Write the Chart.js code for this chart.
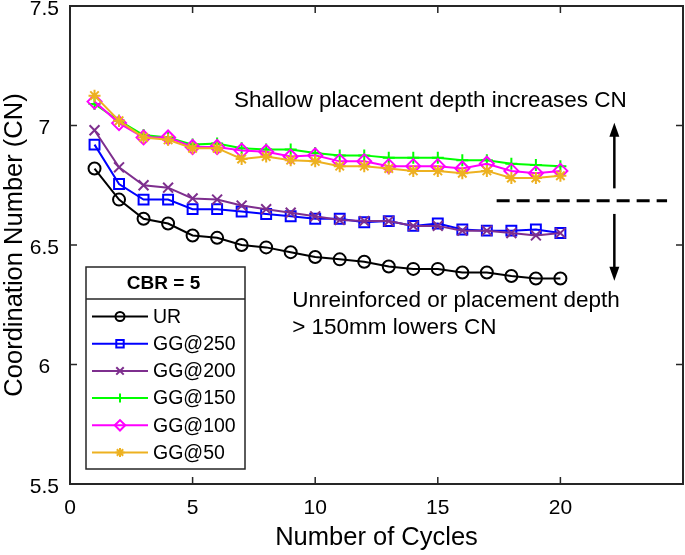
<!DOCTYPE html>
<html>
<head>
<meta charset="utf-8">
<script src="https://cdn.jsdelivr.net/npm/chart.js@4.4.0/dist/chart.umd.min.js"></script>
<style>
  html, body { margin: 0; padding: 0; background: #fff; }
</style>
</head>
<body>
<canvas id="chart-cn" width="685" height="555"></canvas>
<script>
// cycles on the x axis
const cycles = [1, 2, 3, 4, 5, 6, 7, 8, 9, 10, 11, 12, 13, 14, 15, 16, 17, 18, 19, 20];

// coordination number per series
const cnUR    = [6.82, 6.69, 6.61, 6.59, 6.54, 6.53, 6.50, 6.49, 6.47, 6.45, 6.44, 6.43, 6.41, 6.40, 6.40, 6.385, 6.385, 6.37, 6.36, 6.36];
const cnGG250 = [6.92, 6.755, 6.69, 6.69, 6.65, 6.65, 6.64, 6.63, 6.62, 6.61, 6.61, 6.595, 6.60, 6.58, 6.59, 6.565, 6.56, 6.56, 6.565, 6.55];
const cnGG200 = [6.98, 6.825, 6.75, 6.74, 6.695, 6.69, 6.665, 6.65, 6.635, 6.62, 6.605, 6.60, 6.60, 6.58, 6.58, 6.56, 6.56, 6.55, 6.54, 6.55];
const cnGG150 = [7.09, 7.02, 6.96, 6.95, 6.92, 6.925, 6.905, 6.90, 6.90, 6.885, 6.875, 6.875, 6.865, 6.865, 6.865, 6.855, 6.855, 6.84, 6.835, 6.83];
const cnGG100 = [7.10, 7.01, 6.95, 6.95, 6.91, 6.91, 6.895, 6.89, 6.87, 6.875, 6.85, 6.85, 6.83, 6.83, 6.83, 6.82, 6.84, 6.81, 6.80, 6.81];
const cnGG50  = [7.125, 7.02, 6.95, 6.94, 6.905, 6.905, 6.86, 6.87, 6.855, 6.85, 6.83, 6.83, 6.82, 6.81, 6.81, 6.80, 6.81, 6.78, 6.78, 6.79];

const seriesNames = ["UR", "GG@250", "GG@200", "GG@150", "GG@100", "GG@50"];
const xTicks = [0, 5, 10, 15, 20];
const yTicks = [5.5, 6, 6.5, 7, 7.5];

const FONT = "'Liberation Sans', Arial, Helvetica, sans-serif";
const AXIS_COLOR = "#262626";

function makeSet(name, values, color, style, radius, order) {
  return {
    label: name,
    data: values.map((v, i) => ({ x: cycles[i], y: v })),
    borderColor: color,
    backgroundColor: color,
    borderWidth: 2,
    pointStyle: style,
    pointRadius: radius,
    pointHoverRadius: radius,
    pointBorderColor: color,
    pointBackgroundColor: "rgba(0,0,0,0)",
    pointBorderWidth: 2,
    tension: 0,
    order: order,
  };
}

// box around the plot + inward ticks on all four sides
const boxAndTicks = {
  id: "boxAndTicks",
  afterDatasetsDraw(chart) {
    const { ctx, chartArea: { left, top, right, bottom }, scales: { x, y } } = chart;
    ctx.save();
    ctx.strokeStyle = AXIS_COLOR;
    ctx.lineWidth = 2;
    ctx.strokeRect(left, top, right - left, bottom - top);
    ctx.lineWidth = 1.5;
    const len = 7;
    ctx.beginPath();
    xTicks.forEach((v) => {
      const px = x.getPixelForValue(v);
      ctx.moveTo(px, bottom); ctx.lineTo(px, bottom - len);
      ctx.moveTo(px, top); ctx.lineTo(px, top + len);
    });
    yTicks.forEach((v) => {
      const py = y.getPixelForValue(v);
      ctx.moveTo(left, py); ctx.lineTo(left + len, py);
      ctx.moveTo(right, py); ctx.lineTo(right - len, py);
    });
    ctx.stroke();
    ctx.restore();
  },
};

// text, dashed divider and arrows
const notes = {
  id: "notes",
  afterDatasetsDraw(chart) {
    const { ctx, scales: { x, y } } = chart;
    ctx.save();
    ctx.fillStyle = "#000";
    ctx.font = "22.5px " + FONT;
    ctx.textAlign = "left";
    ctx.textBaseline = "alphabetic";
    ctx.fillText("Shallow placement depth increases CN", x.getPixelForValue(6.69), y.getPixelForValue(7.078));
    ctx.fillText("Unreinforced or placement depth", x.getPixelForValue(9.06), y.getPixelForValue(6.24));
    ctx.fillText("> 150mm lowers CN", x.getPixelForValue(9.06), y.getPixelForValue(6.127));

    // dashed divider
    ctx.strokeStyle = "#000";
    ctx.lineWidth = 3;
    ctx.setLineDash([13, 7]);
    ctx.beginPath();
    ctx.moveTo(x.getPixelForValue(17.4), y.getPixelForValue(6.685));
    ctx.lineTo(x.getPixelForValue(24.35), y.getPixelForValue(6.685));
    ctx.stroke();
    ctx.setLineDash([]);

    // arrows
    const ax = x.getPixelForValue(22.2);
    function arrow(y0, y1) {
      const p0 = y.getPixelForValue(y0), p1 = y.getPixelForValue(y1);
      const dir = p1 < p0 ? 1 : -1;
      ctx.lineWidth = 2.5;
      ctx.beginPath();
      ctx.moveTo(ax, p0);
      ctx.lineTo(ax, p1 + dir * 10);
      ctx.stroke();
      ctx.beginPath();
      ctx.moveTo(ax, p1);
      ctx.lineTo(ax - 5, p1 + dir * 14);
      ctx.lineTo(ax + 5, p1 + dir * 14);
      ctx.closePath();
      ctx.fill();
    }
    arrow(6.737, 7.012);
    arrow(6.63, 6.35);
    ctx.restore();
  },
};

// boxed legend with a title row, drawn from the datasets
const boxLegend = {
  id: "boxLegend",
  afterDraw(chart) {
    const { ctx } = chart;
    const bx = 86, by = 267, bw = 159, bh = 202, titleH = 32, rowH = 27.2;
    ctx.save();
    ctx.fillStyle = "#fff";
    ctx.fillRect(bx, by, bw, bh);
    ctx.strokeStyle = AXIS_COLOR;
    ctx.lineWidth = 1.5;
    ctx.strokeRect(bx, by, bw, bh);
    ctx.beginPath();
    ctx.moveTo(bx, by + titleH);
    ctx.lineTo(bx + bw, by + titleH);
    ctx.stroke();

    ctx.fillStyle = "#000";
    ctx.font = "bold 19px " + FONT;
    ctx.textAlign = "center";
    ctx.textBaseline = "middle";
    ctx.fillText("CBR = 5", bx + bw / 2 - 2, by + titleH / 2 + 1);

    ctx.font = "19.5px " + FONT;
    ctx.textAlign = "left";
    chart.data.datasets.forEach((ds, i) => {
      const cy = by + titleH + 17.5 + i * rowH;
      ctx.strokeStyle = ds.borderColor;
      ctx.lineWidth = 2;
      ctx.beginPath();
      ctx.moveTo(bx + 6, cy);
      ctx.lineTo(bx + 62, cy);
      ctx.stroke();
      ctx.fillStyle = "rgba(0,0,0,0)";
      Chart.helpers.drawPoint(ctx, {
        pointStyle: ds.pointStyle,
        radius: ds.pointRadius * 0.75,
        rotation: 0,
        borderWidth: 2,
      }, bx + 34, cy);
      ctx.fillStyle = "#000";
      ctx.fillText(ds.label, bx + 67, cy + 1);
    });
    ctx.restore();
  },
};

const ctx = document.querySelector("#chart-cn").getContext("2d");
const cnChart = new Chart(ctx, {
  type: "line",
  data: {
    datasets: [
      makeSet(seriesNames[0], cnUR, "#000000", "circle", 6, 5),
      makeSet(seriesNames[1], cnGG250, "#0000ff", "rect", 7, 4),
      makeSet(seriesNames[2], cnGG200, "#7e2f8e", "crossRot", 7, 3),
      makeSet(seriesNames[3], cnGG150, "#00ff00", "cross", 6, 2),
      makeSet(seriesNames[4], cnGG100, "#ff00ff", "rectRot", 7, 1),
      makeSet(seriesNames[5], cnGG50, "#edb120", "star", 6, 0),
    ],
  },
  options: {
    responsive: false,
    animation: false,
    layout: { autoPadding: false, padding: { left: 0, right: 2, top: 6, bottom: 0 } },
    plugins: {
      legend: { display: false },
      tooltip: { enabled: false },
    },
    scales: {
      x: {
        type: "linear",
        min: 0,
        max: 25,
        grid: { display: false, drawTicks: false },
        border: { display: false },
        afterBuildTicks: (scale) => { scale.ticks = xTicks.map((v) => ({ value: v })); },
        afterFit: (scale) => { scale.height = 71; scale.paddingLeft = 0; scale.paddingRight = 0; },
        ticks: {
          color: "#000",
          font: { family: FONT, size: 21 },
          padding: 12,
          maxRotation: 0,
          callback: (v) => String(v),
        },
        title: {
          display: true,
          text: "Number of Cycles",
          color: "#000",
          font: { family: FONT, size: 25.5 },
          padding: { top: 0, bottom: 2 },
        },
      },
      y: {
        type: "linear",
        min: 5.5,
        max: 7.5,
        grid: { display: false, drawTicks: false },
        border: { display: false },
        afterBuildTicks: (scale) => { scale.ticks = yTicks.map((v) => ({ value: v })); },
        afterFit: (scale) => { scale.width = 70; scale.paddingTop = 0; scale.paddingBottom = 0; },
        ticks: {
          color: "#000",
          font: { family: FONT, size: 21 },
          padding: 11,
          labelOffset: 3,
          crossAlign: "center",
          callback: (v) => String(v),
        },
        title: {
          display: true,
          text: "Coordination Number (CN)",
          color: "#000",
          font: { family: FONT, size: 25.5 },
          padding: { top: 0, bottom: 0 },
        },
      },
    },
  },
  plugins: [boxAndTicks, notes, boxLegend],
});
</script>
</body>
</html>
